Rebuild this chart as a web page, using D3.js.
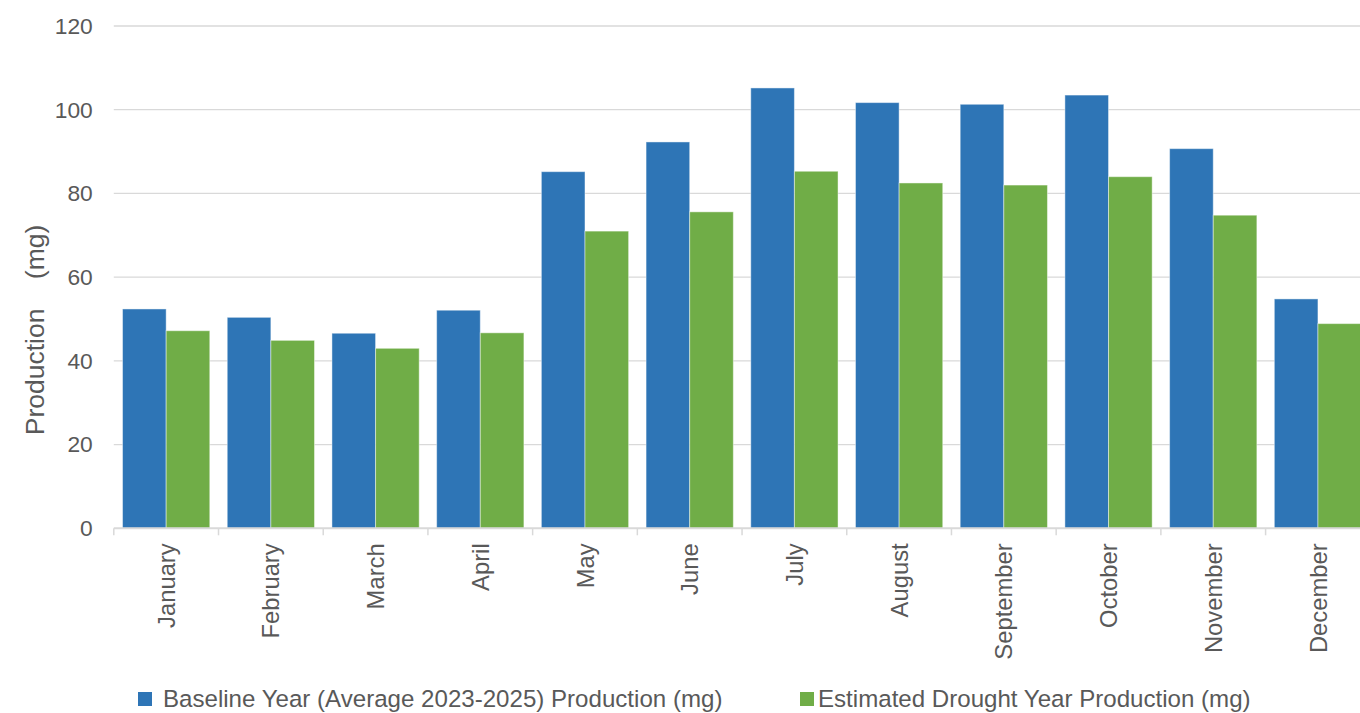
<!DOCTYPE html>
<html>
<head>
<meta charset="utf-8">
<script src="https://cdn.jsdelivr.net/npm/d3@7"></script>
<style>
  html, body { margin: 0; padding: 0; background: #fff; overflow: hidden; }
  svg { display: block; font-family: "Liberation Sans", Arial, sans-serif; }
</style>
</head>
<body>
<svg id="chart" width="1360" height="713"></svg>
<script>
// Monthly production, baseline vs. estimated drought year (mg)
const months = ["January", "February", "March", "April", "May", "June",
                "July", "August", "September", "October", "November", "December"];
const baseline = [52.4, 50.4, 46.6, 52.1, 85.2, 92.3, 105.2, 101.7, 101.3, 103.5, 90.7, 54.8];
const drought  = [47.2, 44.9, 43.0, 46.7, 71.0, 75.6, 85.3, 82.5, 82.0, 84.0, 74.8, 48.9];
const seriesNames = ["Baseline Year (Average 2023-2025) Production (mg)",
                     "Estimated Drought Year Production (mg)"];
const seriesColors = ["#2E75B6", "#70AD47"];
const yTicks = [0, 20, 40, 60, 80, 100, 120];

const svg = d3.select("#chart");
const textColor = "#595959";
const gridColor = "#d9d9d9";

// Plot area (the last category runs slightly past the right edge)
const plotLeft = 113.8, plotRight = 1370.3, plotTop = 26, plotBottom = 528.3;

const x = d3.scaleBand().domain(months).range([plotLeft, plotRight]).padding(0);
const xs = d3.scaleBand().domain([0, 1]).range([0, x.bandwidth()])
  .paddingInner(0).paddingOuter(0.2);
const y = d3.scaleLinear().domain([0, 120]).range([plotBottom, plotTop]);

// Horizontal gridlines
svg.append("g")
  .selectAll("line")
  .data(yTicks.filter(d => d !== 0))
  .join("line")
  .attr("x1", plotLeft).attr("x2", plotRight)
  .attr("y1", d => y(d)).attr("y2", d => y(d))
  .attr("stroke", gridColor).attr("stroke-width", 1.3);

// Y axis labels
const yAxis = d3.axisLeft(y).tickValues(yTicks).tickSize(0).tickPadding(0);
const gy = svg.append("g").attr("transform", `translate(${plotLeft - 21},0)`).call(yAxis);
gy.select(".domain").remove();
gy.selectAll("text")
  .attr("fill", textColor)
  .style("font-size", "22.8px")
  .style("font-family", "'Liberation Sans', Arial, sans-serif");

// Bars
const rows = months.map((m, i) => ({ month: m, values: [baseline[i], drought[i]] }));
const groups = svg.append("g")
  .selectAll("g")
  .data(rows)
  .join("g")
  .attr("transform", d => `translate(${x(d.month)},0)`);

groups.selectAll("rect")
  .data(d => d.values.map((v, k) => ({ k, v })))
  .join("rect")
  .attr("x", d => xs(d.k))
  .attr("width", xs.bandwidth())
  .attr("y", d => y(d.v))
  .attr("height", d => y(0) - y(d.v))
  .attr("fill", d => seriesColors[d.k])
  .attr("stroke", "rgba(255,255,255,0.45)")
  .attr("stroke-width", 1);

// X axis with category boundary ticks
const gx = svg.append("g").attr("transform", `translate(0,${plotBottom})`);
gx.append("line")
  .attr("x1", plotLeft).attr("x2", plotRight)
  .attr("stroke", gridColor).attr("stroke-width", 2);
const boundaries = d3.range(months.length + 1).map(i => plotLeft + i * x.step());
gx.selectAll(".tick-b")
  .data(boundaries)
  .join("line")
  .attr("class", "tick-b")
  .attr("x1", d => d).attr("x2", d => d)
  .attr("y1", 0).attr("y2", 7)
  .attr("stroke", gridColor).attr("stroke-width", 1.5);

gx.selectAll(".month")
  .data(months)
  .join("text")
  .attr("class", "month")
  .attr("transform", d => `translate(${x(d) + x.bandwidth() / 2},15) rotate(-90)`)
  .attr("text-anchor", "end")
  .attr("dy", "0.36em")
  .attr("fill", textColor)
  .style("font-size", "23.8px")
  .text(d => d);

// Y axis title
svg.append("text")
  .attr("transform", `translate(44,330) rotate(-90)`)
  .attr("text-anchor", "middle")
  .attr("fill", textColor)
  .style("font-size", "26.5px")
  .style("white-space", "pre")
  .text("Production    (mg)");

// Legend
const legendItems = [
  { name: seriesNames[0], color: seriesColors[0], x: 138, gap: 25 },
  { name: seriesNames[1], color: seriesColors[1], x: 800, gap: 18 }
];
const lg = svg.append("g").selectAll("g")
  .data(legendItems)
  .join("g")
  .attr("transform", d => `translate(${d.x},0)`);
lg.append("rect")
  .attr("x", 0).attr("y", 692)
  .attr("width", 14).attr("height", 14)
  .attr("fill", d => d.color);
lg.append("text")
  .attr("x", d => d.gap)
  .attr("y", 707)
  .attr("fill", textColor)
  .style("font-size", "24.1px")
  .text(d => d.name);
</script>
</body>
</html>
